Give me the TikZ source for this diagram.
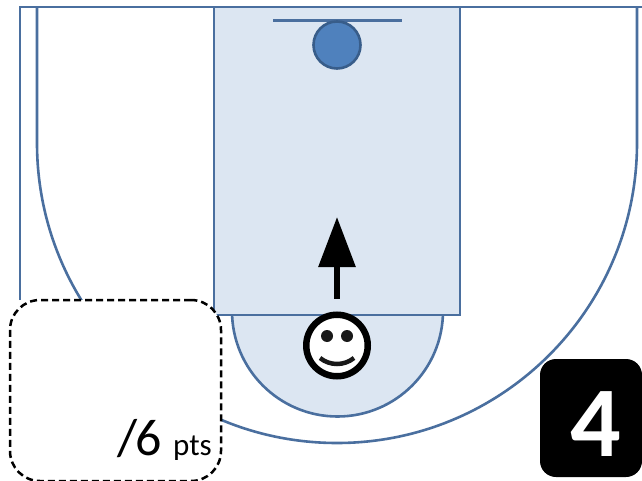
\documentclass[tikz,border=0pt]{standalone}
\usepackage{fontspec}
\setmainfont{Carlito}
\usetikzlibrary{positioning, arrows.meta}

\definecolor{courtline}{HTML}{4A6F9F}
\definecolor{keyfill}{HTML}{DCE6F2}
\definecolor{hoopfill}{HTML}{4F81BD}
\definecolor{hoopline}{HTML}{385D8A}

\begin{document}
\begin{tikzpicture}[
    x = 1pt,
    y = -1pt,
    > = {Triangle[length=50pt, width=36pt]},
    court/.style = {draw=courtline, line width=2.6pt},
    face/.style = {draw=black, circle, line width=6.5pt, fill=white, inner sep=0pt, minimum size=61.5pt},
    eye/.style = {fill=black!90, circle, inner sep=0pt, minimum size=12pt},
    scorebox/.style = {draw=black, fill=white, dash pattern=on 7pt off 4pt, rounded corners=30pt, line width=2.5pt, minimum width=211pt, minimum height=181pt, inner sep=0pt}
]
\useasboundingbox (0,0) rectangle (642,481);

% Draw the court lines
\draw[court] (20,300) -- (20,7) -- (642,7);
\draw[court] (37,7) -- (37,143) arc[start angle=180, end angle=0, radius=300, y=-1pt] -- (637,7);

% Draw the key and the half circle
\draw[court, fill=keyfill] (232,315) -- (232,311) arc[start angle=180, end angle=0, radius=105.5, y=-1pt] -- (443,315);
\node[court, fill=keyfill, minimum width=246pt, minimum height=308pt, inner sep=0pt] (lane) at (337,161) {};

% Draw the backboard and the hoop
\coordinate (boardl) at (273,20.8);
\coordinate (boardr) at (402,20.8);
\draw[court] (boardl) -- (boardr);
\node[circle, draw=hoopline, fill=hoopfill, line width=2.6pt, minimum size=47pt, inner sep=0pt] (hoop) at (337,45) {};

% Draw the player
\node[face] (player) at (337,345.5) {};
\node[eye] (eyel) at (327,336) {};
\node[eye] (eyer) at (347,336) {};
\coordinate (smilel) at (320,358);
\coordinate (smiler) at (354,358);
\draw[line width=4.5pt, black!90] (smilel) .. controls (330,366) and (344,366) .. (smiler);

% Draw the move
\coordinate (start) at (337,298.5);
\coordinate (goal) at (337,217);
\draw[->, line width=6pt, black] (start) -- (goal);

% Draw the score boxes
\node[scorebox] (score) at (115.5,390.5) {};
\node[anchor=base east, inner sep=0pt] (pts) at (212,455.5) {\fontsize{52}{52}\selectfont /\kern-3pt 6 \fontsize{31}{31}\selectfont pts};
\node[fill=black, rounded corners=16pt, minimum width=102pt, minimum height=118pt, inner sep=0pt] (number) at (591,418) {};
\node[text=white, font=\bfseries\fontsize{100}{100}\selectfont, inner sep=0pt] at (595.5,424.5) (numtext) {4};

\end{tikzpicture}
\end{document}
